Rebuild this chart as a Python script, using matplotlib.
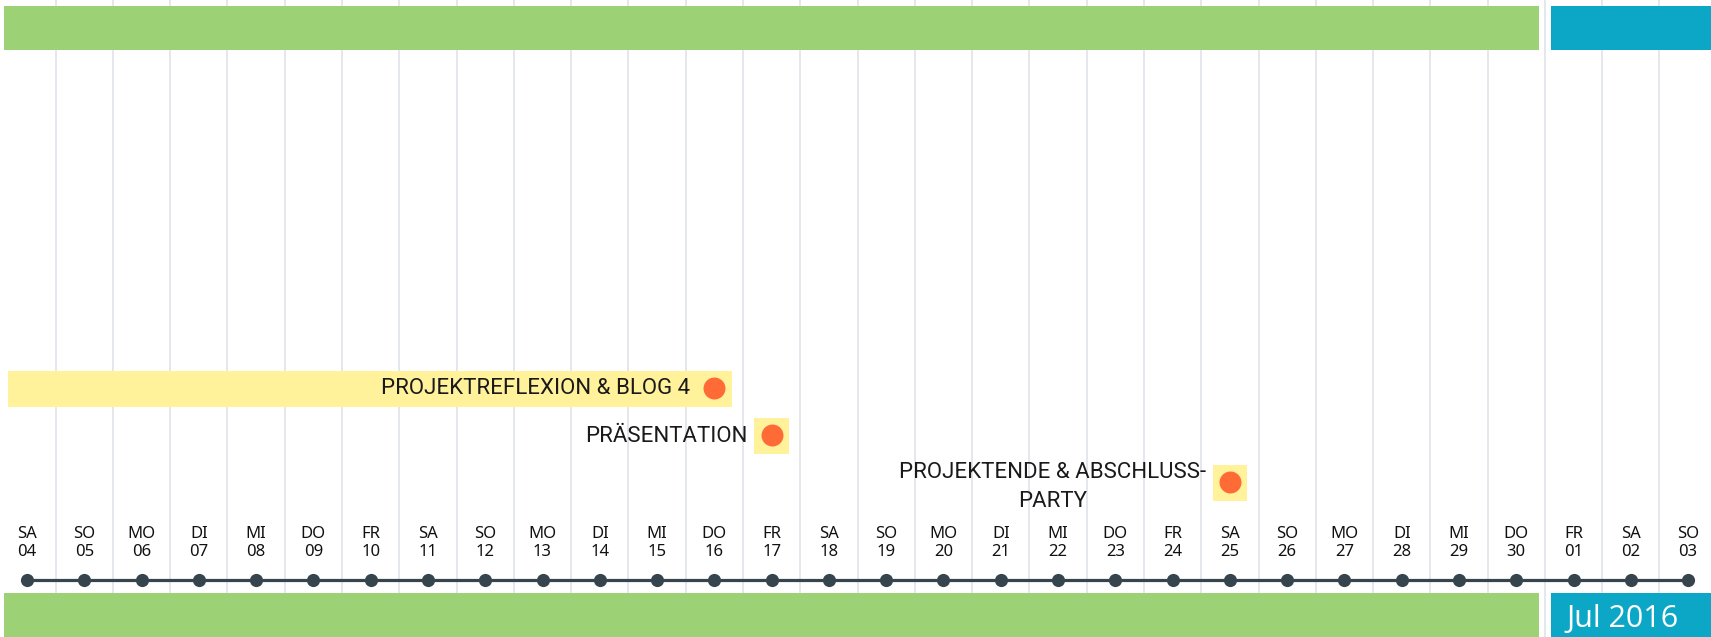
import matplotlib
matplotlib.use("Agg")
import matplotlib.pyplot as plt
from matplotlib.patches import Rectangle

# ---------------- data ----------------
day_names = ["SA", "SO", "MO", "DI", "MI", "DO", "FR",
             "SA", "SO", "MO", "DI", "MI", "DO", "FR",
             "SA", "SO", "MO", "DI", "MI", "DO", "FR",
             "SA", "SO", "MO", "DI", "MI", "DO", "FR",
             "SA", "SO"]
day_numbers = ["04", "05", "06", "07", "08", "09", "10", "11", "12", "13",
               "14", "15", "16", "17", "18", "19", "20", "21", "22", "23",
               "24", "25", "26", "27", "28", "29", "30", "01", "02", "03"]

# months as day-index ranges (index 0 = 04 Jun 2016)
month_labels = ["Jun 2016", "Jul 2016"]
month_first = [-3, 27]
month_last = [26, 57]
month_colors = ["#9DD175", "#0CA7C6"]
month_label_shown = [False, True]

# events (day index start, day index end, row)
event_labels = ["PROJEKTREFLEXION & BLOG 4", "PRÄSENTATION",
                "PROJEKTENDE & ABSCHLUSS-\nPARTY"]
event_start = [0, 13, 21]
event_end = [12, 13, 21]
event_row = [0, 1, 2]

# ---------------- layout ----------------
W, H = 1711, 637
PX = 57.28           # pixels per day
X0 = 27              # pixel of first day
def px2d(p):
    return (p - X0) / PX

fig = plt.figure(figsize=(W / 100, H / 100), dpi=100)
ax = fig.add_axes([0, 0, 1, 1])
xl, xr = px2d(0), px2d(W)
ax.set_xlim(xl, xr)
ax.set_ylim(H, 0)
ax.axis("off")

n = len(day_names)
days = list(range(n))

# vertical grid lines between days
for d in range(-1, n):
    ax.axvline(d + 0.5, color="#DFE3E8", lw=1.2, zorder=0)

# month bars (top and bottom)
gap = 6 / PX
for lab, f, l, c, show in zip(month_labels, month_first, month_last,
                              month_colors, month_label_shown):
    a = max(f - 0.5, xl) + (gap if f - 0.5 > xl else 4.4 / PX)
    b = min(l + 0.5, xr + 1) - gap
    for (y0, y1) in [(5.5, 50), (593, 645)]:
        ax.add_patch(Rectangle((a, y0), b - a, y1 - y0, facecolor=c,
                               edgecolor="none", zorder=2))
    if show:
        ax.annotate(lab, xy=(a, 619), xytext=(16, 0), textcoords="offset pixels",
                    ha="left", va="center", color="white", fontsize=22,
                    family="Open Sans", zorder=3)

# timeline
ty = 580
ax.plot([days[0], days[-1]], [ty, ty], color="#36444E", lw=2.3, zorder=3,
        solid_capstyle="butt")
ax.scatter(days, [ty] * n, s=90, color="#36444E", zorder=4, linewidths=0)

# day labels
for d, nm, num in zip(days, day_names, day_numbers):
    ax.text(d, 534, nm, ha="center", va="center", fontsize=12,
            family="Noto Sans", color="#111111", zorder=3)
    ax.text(d, 552, num, ha="center", va="center", fontsize=12,
            family="Noto Sans", color="#111111", zorder=3)

# events
row_y0 = 389
row_dy = 47
pad_l = 0.34
pad_r = 0.30
bh = 36
for lab, s, e, r in zip(event_labels, event_start, event_end, event_row):
    y = row_y0 + r * row_dy
    ax.add_patch(Rectangle((s - pad_l if s != e else s - pad_r, y - bh / 2),
                           (e - s) + pad_r + (pad_l if s != e else pad_r), bh,
                           facecolor="#FFF29B", edgecolor="none", zorder=3))
    ax.scatter([e], [y - 1], s=250, color="#FF6B36", zorder=5, linewidths=0)
    yt = y + (4 if "\n" in lab else 0)
    ax.annotate(lab, xy=(e, yt), xytext=(-24, 0), textcoords="offset pixels",
                ha="right", va="center", multialignment="center",
                fontsize=16, family="Roboto", color="#1A1A1A",
                linespacing=1.45, zorder=6)

fig.savefig("out.png", dpi=100)
